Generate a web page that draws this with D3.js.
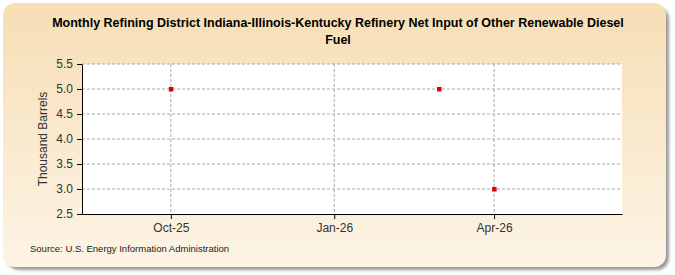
<!DOCTYPE html>
<html>
<head>
<meta charset="utf-8">
<script src="https://cdn.jsdelivr.net/npm/d3@7"></script>
<style>
  body { margin: 0; background: #fff; }
  svg { display: block; font-family: "Liberation Sans", Arial, sans-serif; }
</style>
</head>
<body>
<svg width="675" height="275"></svg>
<script>
// data
const months  = ["2025-10", "2026-03", "2026-04"];
const values  = [5.0, 5.0, 3.0];
const xTicks  = ["2025-10", "2026-01", "2026-04"];
const yTicks  = [2.5, 3.0, 3.5, 4.0, 4.5, 5.0, 5.5];

const parse = d3.timeParse("%Y-%m");
const data  = months.map((m, i) => ({date: parse(m), value: values[i]}));

const svg    = d3.select("svg"),
      margin = {top: 64, right: 53, bottom: 61, left: 82},
      width  = +svg.attr("width")  - margin.left - margin.right,
      height = +svg.attr("height") - margin.top  - margin.bottom;

// background panel
const defs = svg.append("defs");
const grad = defs.append("linearGradient").attr("id", "bg")
    .attr("x1", 0).attr("y1", 0).attr("x2", 0).attr("y2", 1);
grad.append("stop").attr("offset", "0%").attr("stop-color", "#f6deb4");
grad.append("stop").attr("offset", "100%").attr("stop-color", "#fdf4e6");
const shadow = defs.append("filter").attr("id", "blur");
shadow.append("feGaussianBlur").attr("stdDeviation", 1.5);

svg.append("rect")
    .attr("x", 7).attr("y", 7).attr("width", 662).attr("height", 263)
    .attr("rx", 12).attr("fill", "#9a9a9a").attr("filter", "url(#blur)");
svg.append("rect")
    .attr("x", 3).attr("y", 3).attr("width", 663).attr("height", 264)
    .attr("rx", 12).attr("fill", "url(#bg)");

const x = d3.scaleTime()
    .domain([new Date(2025, 7, 12), new Date(2026, 5, 12)])
    .range([0, width]);
const y = d3.scaleLinear().domain([2.5, 5.5]).range([height, 0]);

const g = svg.append("g")
    .attr("transform", `translate(${margin.left},${margin.top})`);

g.append("rect")
    .attr("width", width).attr("height", height).attr("fill", "#fff");

// gridlines
g.append("g").selectAll("line")
  .data(yTicks.slice(1))
  .enter().append("line")
    .attr("x1", 0).attr("x2", width)
    .attr("y1", d => y(d)).attr("y2", d => y(d))
    .attr("stroke", "#a8a8a8").attr("stroke-dasharray", "3,2");

g.append("g").selectAll("line")
  .data(xTicks.map(parse))
  .enter().append("line")
    .attr("x1", d => x(d)).attr("x2", d => x(d))
    .attr("y1", 0).attr("y2", height)
    .attr("stroke", "#a8a8a8").attr("stroke-dasharray", "3,2");

// axes
const xAxis = g.append("g")
    .attr("transform", `translate(0,${height})`)
    .call(d3.axisBottom(x).tickValues(xTicks.map(parse))
      .tickFormat(d3.timeFormat("%b-%y")).tickSize(5).tickSizeOuter(0));
xAxis.select(".domain").attr("stroke", "#000");
xAxis.selectAll("text").attr("fill", "#333").style("font-size", "12px").attr("dy", "0.85em");

const yAxis = g.append("g")
    .call(d3.axisLeft(y).tickValues(yTicks).tickFormat(d3.format(".1f"))
      .tickSize(5).tickSizeOuter(0));
yAxis.select(".domain").attr("stroke", "#000");
yAxis.selectAll("text").attr("fill", "#333").style("font-size", "12px").attr("dx", "-1px");

// points
g.selectAll(".pt")
  .data(data)
  .enter().append("rect")
    .attr("class", "pt")
    .attr("x", d => x(d.date) - 2)
    .attr("y", d => y(d.value) - 2)
    .attr("width", 4.5).attr("height", 4.5)
    .attr("fill", "#dd0000");

// texts
svg.append("text")
    .attr("x", 338).attr("y", 27)
    .attr("text-anchor", "middle")
    .style("font-size", "12.5px").style("font-weight", "bold")
    .text("Monthly Refining District Indiana-Illinois-Kentucky Refinery Net Input of Other Renewable Diesel");
svg.append("text")
    .attr("x", 338).attr("y", 44)
    .attr("text-anchor", "middle")
    .style("font-size", "12.5px").style("font-weight", "bold")
    .text("Fuel");

svg.append("text")
    .attr("transform", `translate(47,${margin.top + height / 2}) rotate(-90)`)
    .attr("text-anchor", "middle")
    .style("font-size", "12px").attr("fill", "#333")
    .text("Thousand Barrels");

svg.append("text")
    .attr("x", 30).attr("y", 252)
    .style("font-size", "9.5px").attr("fill", "#222")
    .text("Source: U.S. Energy Information Administration");
</script>
</body>
</html>
